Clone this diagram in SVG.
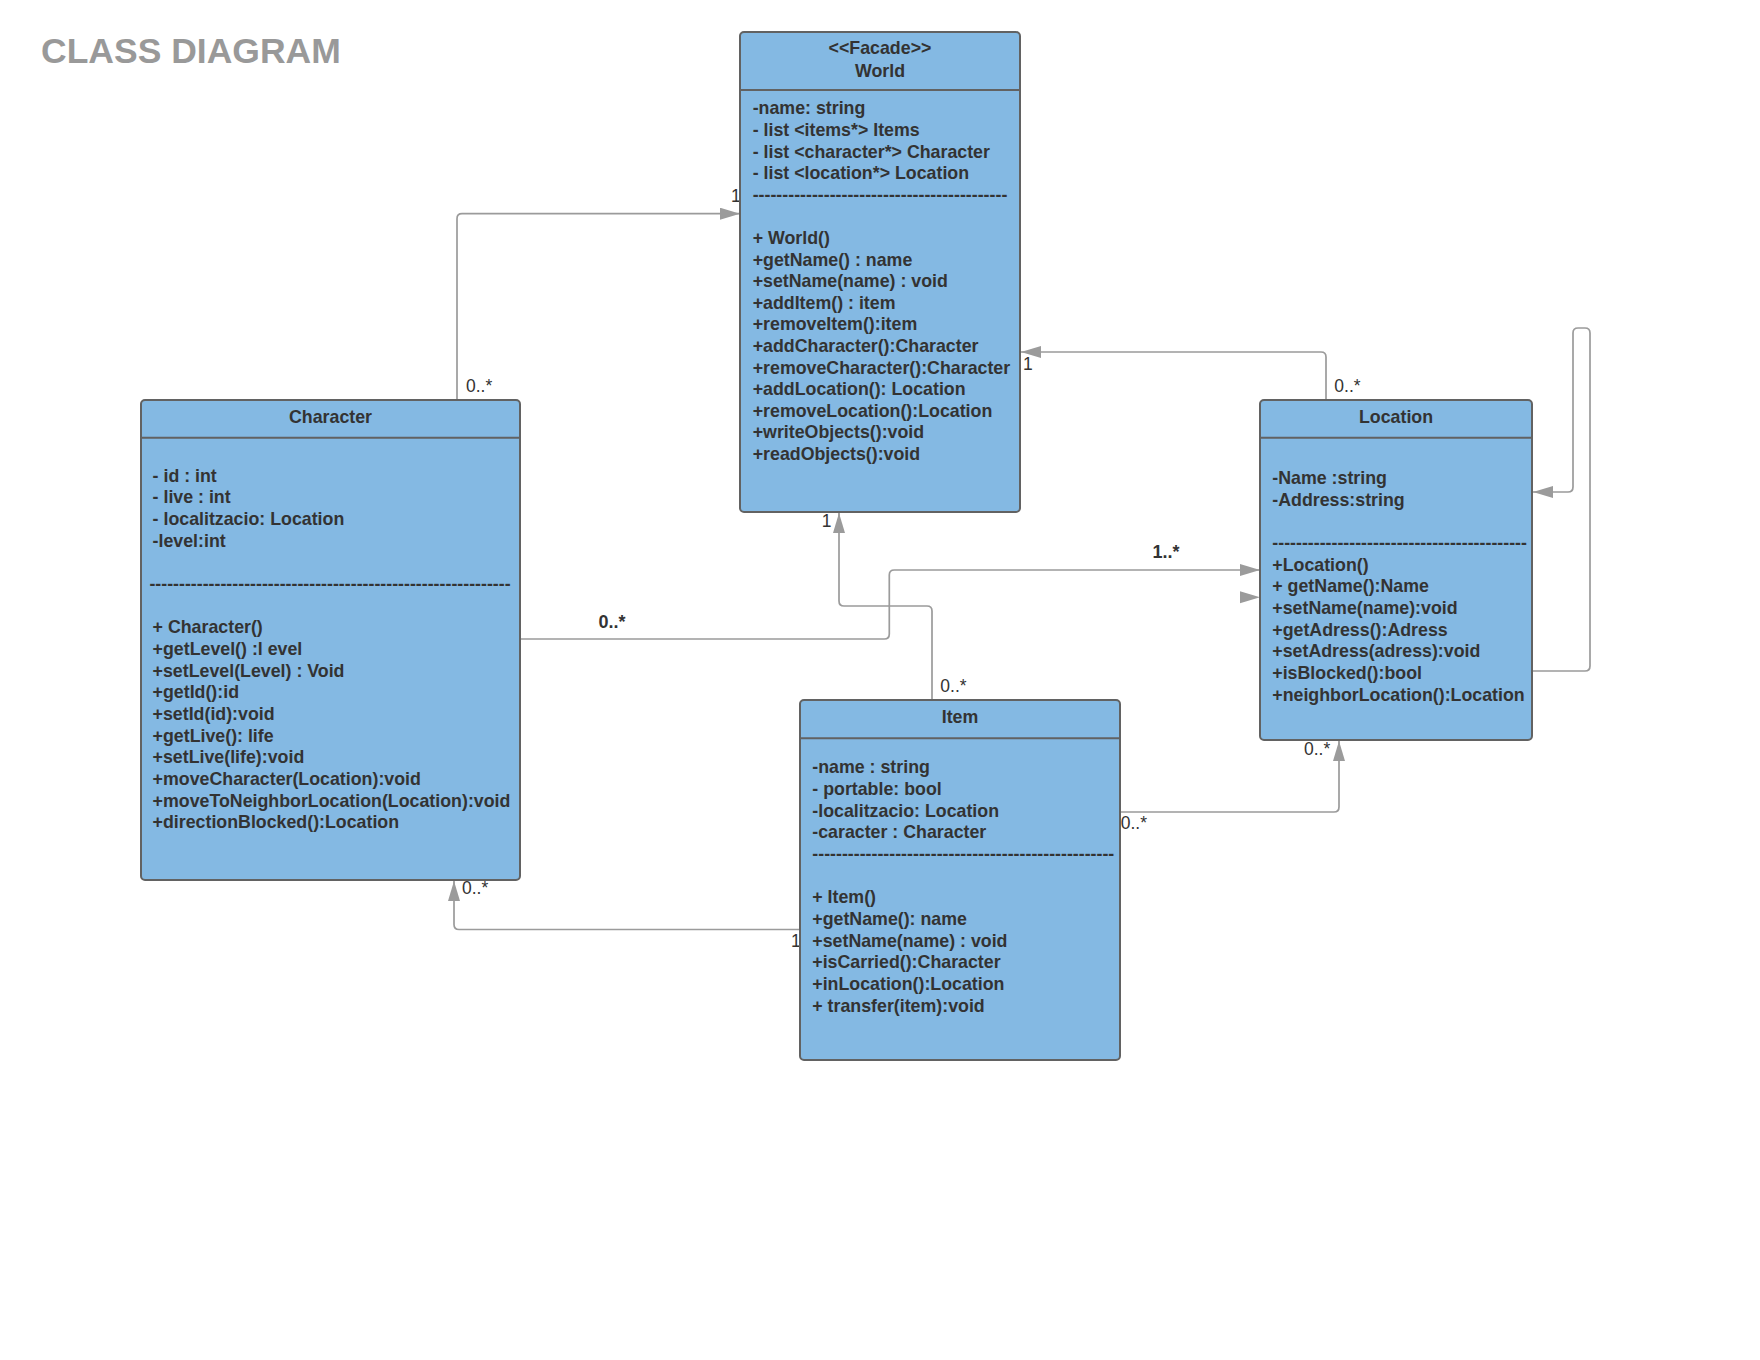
<svg xmlns="http://www.w3.org/2000/svg" width="1760" height="1360" viewBox="0 0 1760 1360">
<style>
.box{fill:#84b9e3;stroke:#626262;stroke-width:2}
.div{stroke:#626262;stroke-width:2}
.t{font-family:"Liberation Sans",Arial,sans-serif;font-size:17.8px;font-weight:bold;fill:#333333}
.h{text-anchor:middle}
.c{fill:none;stroke:#9b9b9b;stroke-width:1.7}
.lb{font-family:"Liberation Sans",Arial,sans-serif;font-size:17.5px;fill:#333333}
.lbb{font-family:"Liberation Sans",Arial,sans-serif;font-size:18px;font-weight:bold;fill:#333333}
</style>
<defs>
<marker id="ah" viewBox="0 0 20 12" refX="20" refY="6" markerWidth="20" markerHeight="12" markerUnits="userSpaceOnUse" orient="auto">
<path d="M0,0 L20,6 L0,12 z" fill="#9b9b9b"/>
</marker>
</defs>
<rect width="1760" height="1360" fill="#ffffff"/>
<text x="41" y="63.3" font-family="'Liberation Sans',Arial,sans-serif" font-size="35.5" font-weight="bold" fill="#999999">CLASS DIAGRAM</text>

<g id="connectors">
<path class="c" d="M457,400 V218.7 Q457,213.7 462,213.7 H740" marker-end="url(#ah)"/>
<path class="c" d="M1326,400 V357 Q1326,352 1321,352 H1021" marker-end="url(#ah)"/>
<path class="c" d="M932,700 V611 Q932,606 927,606 H844 Q839,606 839,601 V513" marker-end="url(#ah)"/>
<path class="c" d="M520,639 H884.3 Q889.3,639 889.3,634 V575 Q889.3,570 894.3,570 H1260" marker-end="url(#ah)"/>
<path d="M1240,591.3 L1260,597.3 L1240,603.3 z" fill="#9b9b9b"/>
<path class="c" d="M1120,812 H1334 Q1339,812 1339,807 V741" marker-end="url(#ah)"/>
<path class="c" d="M800,929.5 H459 Q454,929.5 454,924.5 V881" marker-end="url(#ah)"/>
<path class="c" d="M1532,671 H1585 Q1590,671 1590,666 V333 Q1590,328 1585,328 H1578 Q1573,328 1573,333 V487 Q1573,492 1568,492 H1533" marker-end="url(#ah)"/>
<text class="lb" x="731" y="201.7">1</text>
<text class="lb" x="466" y="392">0..*</text>
<text class="lb" x="1334.3" y="392.3">0..*</text>
<text class="lb" x="1023" y="370">1</text>
<text class="lb" x="821.7" y="526.7">1</text>
<text class="lb" x="940.3" y="692.3">0..*</text>
<text class="lbb" x="598.6" y="628.3">0..*</text>
<text class="lbb" x="1152.5" y="558.3">1..*</text>
<text class="lb" x="1120.7" y="829">0..*</text>
<text class="lb" x="1304" y="755">0..*</text>
<text class="lb" x="462" y="894">0..*</text>
<text class="lb" x="791" y="947">1</text>
</g>

<g id="world">
<rect class="box" x="740" y="32" width="280" height="480" rx="4"/>
<line class="div" x1="740" y1="90" x2="1020" y2="90"/>
<text class="t h" x="880" y="54">&lt;&lt;Facade&gt;&gt;</text>
<text class="t h" x="880" y="77">World</text>
<text class="t" x="752.7">
<tspan x="752.7" y="114.3">-name: string</tspan>
<tspan x="752.7" y="135.9">- list &lt;items*&gt; Items</tspan>
<tspan x="752.7" y="157.5">- list &lt;character*&gt; Character</tspan>
<tspan x="752.7" y="179.1">- list &lt;location*&gt; Location</tspan>
<tspan x="752.7" y="200.7">-------------------------------------------</tspan>
<tspan x="752.7" y="243.9">+ World()</tspan>
<tspan x="752.7" y="265.5">+getName() : name</tspan>
<tspan x="752.7" y="287.1">+setName(name) : void</tspan>
<tspan x="752.7" y="308.7">+addItem() : item</tspan>
<tspan x="752.7" y="330.3">+removeItem():item</tspan>
<tspan x="752.7" y="351.9">+addCharacter():Character</tspan>
<tspan x="752.7" y="373.5">+removeCharacter():Character</tspan>
<tspan x="752.7" y="395.1">+addLocation(): Location</tspan>
<tspan x="752.7" y="416.7">+removeLocation():Location</tspan>
<tspan x="752.7" y="438.3">+writeObjects():void</tspan>
<tspan x="752.7" y="459.9">+readObjects():void</tspan>
</text>
</g>

<g id="character">
<rect class="box" x="141" y="400" width="379" height="480" rx="4"/>
<line class="div" x1="141" y1="437.7" x2="520" y2="437.7"/>
<text class="t h" x="330.5" y="422.7">Character</text>
<text class="t" x="152.6">
<tspan x="152.6" y="481.7">- id : int</tspan>
<tspan x="152.6" y="503.3">- live : int</tspan>
<tspan x="152.6" y="525">- localitzacio: Location</tspan>
<tspan x="152.6" y="546.7">-level:int</tspan>
<tspan x="149.4" y="590">-------------------------------------------------------------</tspan>
<tspan x="152.6" y="633.3">+ Character()</tspan>
<tspan x="152.6" y="655">+getLevel() :l evel</tspan>
<tspan x="152.6" y="676.7">+setLevel(Level) : Void</tspan>
<tspan x="152.6" y="698.3">+getId():id</tspan>
<tspan x="152.6" y="720">+setId(id):void</tspan>
<tspan x="152.6" y="741.7">+getLive(): life</tspan>
<tspan x="152.6" y="763.3">+setLive(life):void</tspan>
<tspan x="152.6" y="785">+moveCharacter(Location):void</tspan>
<tspan x="152.6" y="806.7">+moveToNeighborLocation(Location):void</tspan>
<tspan x="152.6" y="828.3">+directionBlocked():Location</tspan>
</text>
</g>

<g id="location">
<rect class="box" x="1260" y="400" width="272" height="340" rx="4"/>
<line class="div" x1="1260" y1="437.7" x2="1532" y2="437.7"/>
<text class="t h" x="1396" y="422.7">Location</text>
<text class="t" x="1272.3">
<tspan x="1272.3" y="484">-Name :string</tspan>
<tspan x="1272.3" y="505.7">-Address:string</tspan>
<tspan x="1272.3" y="549">-------------------------------------------</tspan>
<tspan x="1272.3" y="570.7">+Location()</tspan>
<tspan x="1272.3" y="592.3">+ getName():Name</tspan>
<tspan x="1272.3" y="614">+setName(name):void</tspan>
<tspan x="1272.3" y="635.7">+getAdress():Adress</tspan>
<tspan x="1272.3" y="657.3">+setAdress(adress):void</tspan>
<tspan x="1272.3" y="679">+isBlocked():bool</tspan>
<tspan x="1272.3" y="700.7">+neighborLocation():Location</tspan>
</text>
</g>

<g id="item">
<rect class="box" x="800" y="700" width="320" height="360" rx="4"/>
<line class="div" x1="800" y1="738.3" x2="1120" y2="738.3"/>
<text class="t h" x="960" y="722.7">Item</text>
<text class="t" x="812.3">
<tspan x="812.3" y="773.3">-name : string</tspan>
<tspan x="812.3" y="795">- portable: bool</tspan>
<tspan x="812.3" y="816.7">-localitzacio: Location</tspan>
<tspan x="812.3" y="838.3">-caracter : Character</tspan>
<tspan x="812.3" y="860">---------------------------------------------------</tspan>
<tspan x="812.3" y="903.3">+ Item()</tspan>
<tspan x="812.3" y="925">+getName(): name</tspan>
<tspan x="812.3" y="946.7">+setName(name) : void</tspan>
<tspan x="812.3" y="968.3">+isCarried():Character</tspan>
<tspan x="812.3" y="990">+inLocation():Location</tspan>
<tspan x="812.3" y="1011.7">+ transfer(item):void</tspan>
</text>
</g>
</svg>
